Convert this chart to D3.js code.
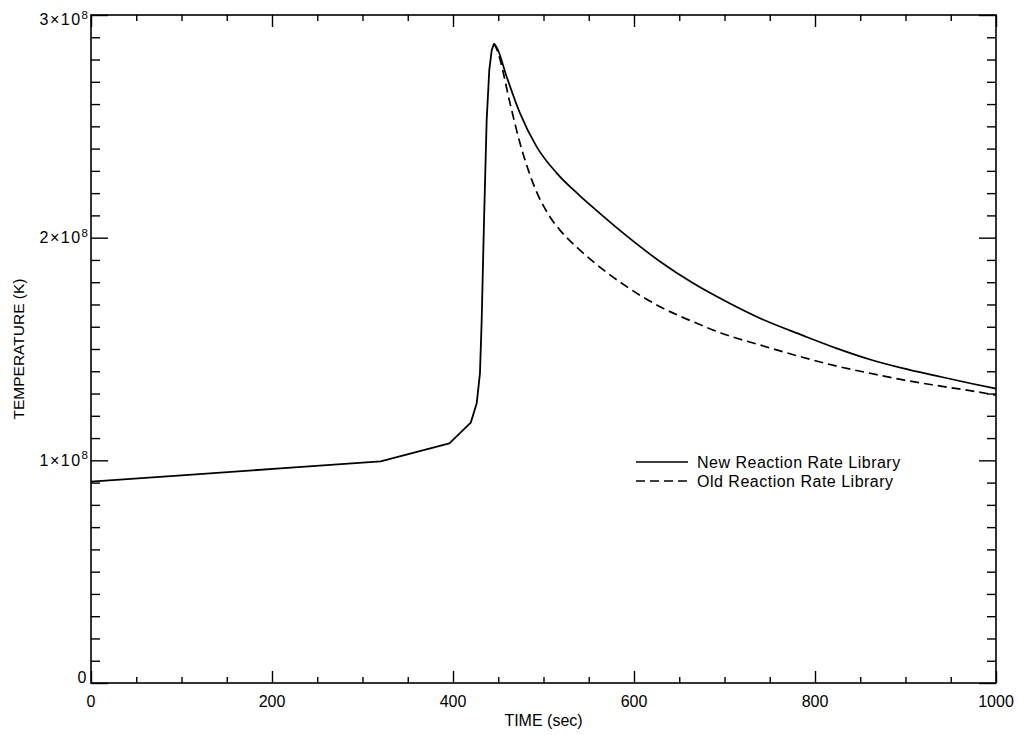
<!DOCTYPE html>
<html>
<head>
<meta charset="utf-8">
<script src="https://cdn.jsdelivr.net/npm/d3@7"></script>
<style>
  html, body { margin: 0; padding: 0; background: #fff; }
  svg { display: block; }
  text { font-family: "Liberation Sans", Arial, Helvetica, sans-serif; fill: #000; }
</style>
</head>
<body>
<svg id="chart" width="1018" height="735"></svg>
<script>
// ---- data (temperature in units of 1e8 K, time in sec) ----
// shared heating phase (both libraries coincide up to the peak)
const riseTime = [0, 100, 209, 320, 396, 419.6, 426.2, 429.8, 431.7, 434.3, 437.2, 440.1, 442.8, 445.3];
const riseTemp = [0.904, 0.932, 0.964, 0.995, 1.076, 1.169, 1.256, 1.392, 1.630, 2.079, 2.528, 2.753, 2.842, 2.872];

// cooling phase, new reaction rate library
const newDecayTime = [445.3, 448.9, 459.3, 474, 492.5, 514.6, 540.3, 555, 591.9, 628.7, 665.5, 702.4, 739.2, 787.1, 824, 860.8, 897.6, 934.5, 971.3, 1000];
const newDecayTemp = [2.872, 2.850, 2.723, 2.559, 2.408, 2.290, 2.188, 2.135, 2.008, 1.893, 1.795, 1.712, 1.638, 1.560, 1.503, 1.453, 1.413, 1.379, 1.346, 1.322];

// cooling phase, old reaction rate library
const oldDecayTime = [445.3, 449, 452, 463, 474, 488.4, 507.2, 518.2, 540.3, 555, 591.9, 628.7, 665.5, 702.4, 739.2, 787.1, 824, 860.8, 897.6, 934.5, 971.3, 1000];
const oldDecayTemp = [2.872, 2.84, 2.80, 2.604, 2.425, 2.245, 2.093, 2.034, 1.944, 1.892, 1.780, 1.690, 1.622, 1.563, 1.518, 1.462, 1.423, 1.391, 1.361, 1.336, 1.313, 1.293];

const xMajorTicks = [0, 200, 400, 600, 800, 1000];
const xMajorLabels = ["0", "200", "400", "600", "800", "1000"];
const yMajorTicks = [0, 1, 2, 3];
const yMajorLabels = [["0", ""], ["1\u00d710", "8"], ["2\u00d710", "8"], ["3\u00d710", "8"]];
const seriesNames = ["New Reaction Rate Library", "Old Reaction Rate Library"];
const xTitle = "TIME (sec)";
const yTitle = "TEMPERATURE (K)";

// ---- layout ----
const L = 91, R = 996, T = 15, B = 683;
const svg = d3.select("#chart");
const x = d3.scaleLinear().domain([0, 1000]).range([L, R]);
const y = d3.scaleLinear().domain([0, 3]).range([B, T]);

const xMinor = d3.range(0, 1001, 50).filter(v => !xMajorTicks.includes(v));
const yMinor = d3.range(0, 30.1, 1).map(v => v / 10).filter(v => !yMajorTicks.includes(v));

function styleAxis(g) {
  g.select(".domain").remove();
  g.selectAll("line").attr("stroke", "#000").attr("stroke-width", 1.4);
  g.selectAll("text").remove();
}
svg.append("g").attr("transform", `translate(0,${B})`).call(d3.axisBottom(x).tickValues(xMinor).tickSize(-6)).call(styleAxis);
svg.append("g").attr("transform", `translate(0,${B})`).call(d3.axisBottom(x).tickValues(xMajorTicks).tickSize(-12)).call(styleAxis);
svg.append("g").attr("transform", `translate(0,${T})`).call(d3.axisTop(x).tickValues(xMinor).tickSize(-6)).call(styleAxis);
svg.append("g").attr("transform", `translate(0,${T})`).call(d3.axisTop(x).tickValues(xMajorTicks).tickSize(-12)).call(styleAxis);
svg.append("g").attr("transform", `translate(${L},0)`).call(d3.axisLeft(y).tickValues(yMinor).tickSize(-9)).call(styleAxis);
svg.append("g").attr("transform", `translate(${L},0)`).call(d3.axisLeft(y).tickValues(yMajorTicks).tickSize(-17)).call(styleAxis);
svg.append("g").attr("transform", `translate(${R},0)`).call(d3.axisRight(y).tickValues(yMinor).tickSize(-9)).call(styleAxis);
svg.append("g").attr("transform", `translate(${R},0)`).call(d3.axisRight(y).tickValues(yMajorTicks).tickSize(-17)).call(styleAxis);

// frame
svg.append("rect").attr("x", L).attr("y", T).attr("width", R - L).attr("height", B - T)
  .attr("fill", "none").attr("stroke", "#000").attr("stroke-width", 1.6);

// x tick labels
svg.append("g").selectAll("text").data(xMajorTicks).join("text")
  .attr("x", d => x(d)).attr("y", 707).attr("text-anchor", "middle")
  .attr("font-size", 16).text((d, i) => xMajorLabels[i]);

// y tick labels
const yl = svg.append("g").selectAll("text").data(yMajorTicks).join("text")
  .attr("x", 88)
  .attr("y", d => Math.min(B, Math.max(T + 10, y(d) + 5.5)))
  .attr("text-anchor", "end").attr("font-size", 16);
yl.append("tspan").attr("letter-spacing", 1.5).text((d, i) => yMajorLabels[i][0]);
yl.append("tspan").attr("font-size", 11.5).attr("dy", -6.5).text((d, i) => yMajorLabels[i][1]);

// axis titles
svg.append("text").attr("x", (L + R) / 2).attr("y", 726).attr("text-anchor", "middle")
  .attr("font-size", 16).text(xTitle);
svg.append("text").attr("transform", `translate(24,${(T + B) / 2}) rotate(-90)`)
  .attr("text-anchor", "middle").attr("font-size", 15.5).text(yTitle);

// series
const lineLin = d3.line().x(d => x(d[0])).y(d => y(d[1]));
const lineSmooth = d3.line().x(d => x(d[0])).y(d => y(d[1])).curve(d3.curveMonotoneX);

svg.append("path").datum(d3.zip(oldDecayTime, oldDecayTemp)).attr("d", lineSmooth)
  .attr("fill", "none").attr("stroke", "#000").attr("stroke-width", 1.7).attr("stroke-dasharray", "9,5");
svg.append("path").datum(d3.zip(riseTime, riseTemp)).attr("d", lineLin)
  .attr("fill", "none").attr("stroke", "#000").attr("stroke-width", 1.8).attr("stroke-linejoin", "round");
svg.append("path").datum(d3.zip(newDecayTime, newDecayTemp)).attr("d", lineSmooth)
  .attr("fill", "none").attr("stroke", "#000").attr("stroke-width", 1.7);

// legend
const legY = [462, 481];
const leg = svg.append("g");
leg.append("line").attr("x1", 636).attr("x2", 688).attr("y1", legY[0]).attr("y2", legY[0])
  .attr("stroke", "#000").attr("stroke-width", 1.5);
leg.append("line").attr("x1", 636).attr("x2", 688).attr("y1", legY[1]).attr("y2", legY[1])
  .attr("stroke", "#000").attr("stroke-width", 1.5).attr("stroke-dasharray", "9,5");
leg.selectAll("text").data(seriesNames).join("text")
  .attr("x", 697).attr("y", (d, i) => legY[i] + 5.5).attr("font-size", 16).attr("letter-spacing", 0.5)
  .text(d => d);
</script>
</body>
</html>
